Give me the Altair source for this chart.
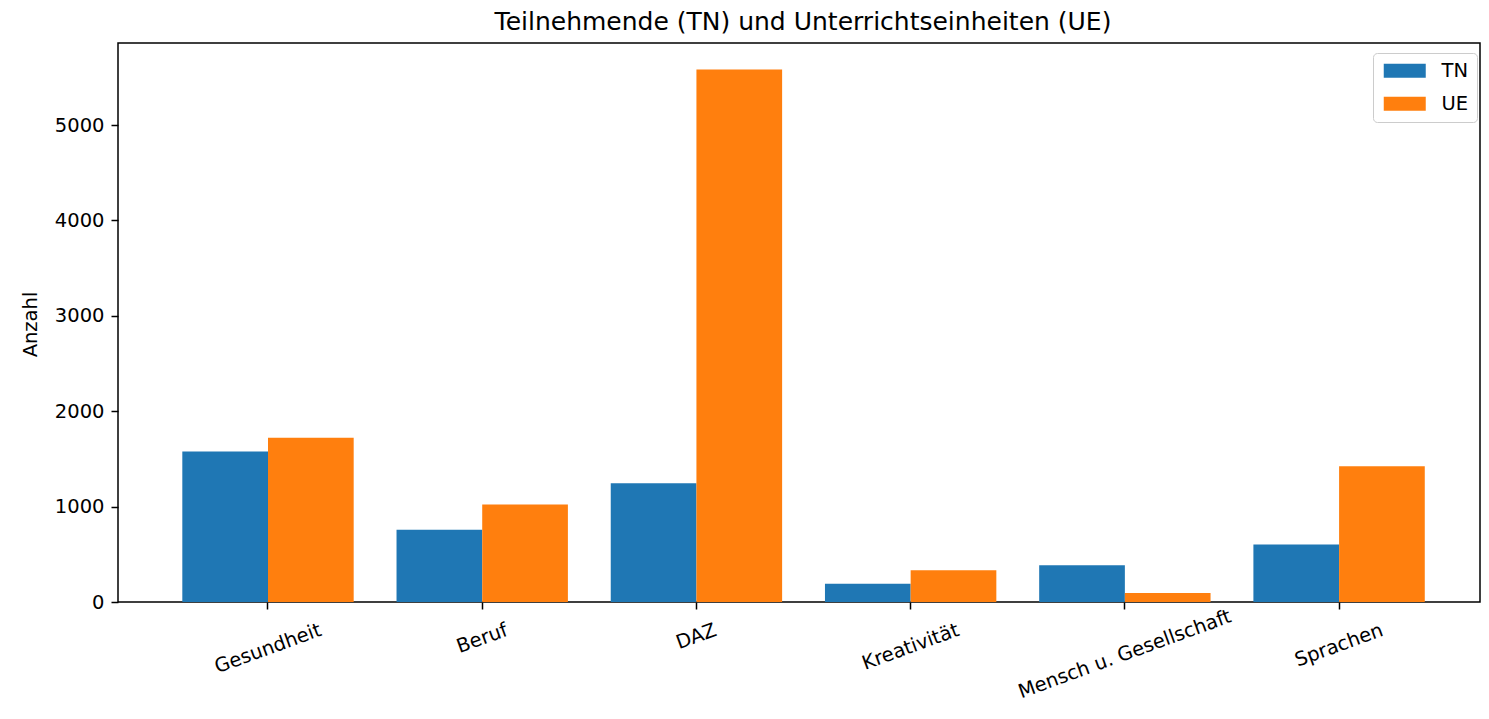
import altair as alt
import pandas as pd

categories = ["Gesundheit", "Beruf", "DAZ", "Kreativität", "Mensch u. Gesellschaft", "Sprachen"]
tn_values = [1578, 758, 1246, 192, 384, 604]
ue_values = [1721, 1023, 5581, 332, 94, 1424]
series = ["TN", "UE"]
colors = ["#1f77b4", "#ff7f0e"]
y_ticks = [0, 1000, 2000, 3000, 4000, 5000]

rows = []
for c, t, u in zip(categories, tn_values, ue_values):
    rows.append({"Bereich": c, "Serie": "TN", "Anzahl": t})
    rows.append({"Bereich": c, "Serie": "UE", "Anzahl": u})
df = pd.DataFrame(rows)

FONT = "DejaVu Sans"
FS = 19.5
LEFT = 110  # padding left (plot starts at 8 + LEFT)
BOTTOM = 104

# approximate rendered label widths (em) in DejaVu Sans, used to mimic
# matplotlib's rotated-label placement (bbox top aligned under the tick)
label_em = {"Gesundheit": 5.737, "Beruf": 2.698, "DAZ": 2.14, "Kreativität": 5.232,
            "Mensch u. Gesellschaft": 11.549, "Sprachen": 4.727}


def label_pad(c):
    w = label_em[c] * FS
    pad = 20 + w * 0.171
    half_h = (w * 0.342 + 21.3) / 2
    # keep the rotated label inside the drawing area
    max_center = BOTTOM - 3 - half_h - 7
    return round(min(pad, max_center), 1)


pad_conditions = [{"test": f"datum.value === '{c}'", "value": label_pad(c)} for c in categories]

chart = alt.Chart(df).mark_bar().encode(
    x=alt.X(
        "Bereich:N",
        sort=categories,
        scale=alt.Scale(paddingInner=0.2, paddingOuter=0.279, align=0.538),
        axis=alt.Axis(
            title=None,
            labelAngle=-20,
            labelAlign="center",
            labelBaseline="middle",
            labelFontSize=FS,
            labelColor="black",
            labelLimit=0,
            labelPadding={"condition": pad_conditions, "value": 30},
            tickColor="black",
            tickSize=7,
            tickWidth=1.5,
            domain=False,
            grid=False,
            bandPosition=0.5,
            labelOverlap=False,
            labelFlush=False,
        ),
    ),
    xOffset=alt.XOffset("Serie:N", sort=series, scale=alt.Scale(paddingInner=0, paddingOuter=0)),
    y=alt.Y(
        "Anzahl:Q",
        scale=alt.Scale(domain=[0, 5860], nice=False, zero=True),
        axis=alt.Axis(
            title="Anzahl",
            values=y_ticks,
            format="d",
            labelFontSize=FS,
            labelColor="black",
            labelPadding=7,
            tickColor="black",
            tickSize=7,
            tickWidth=1.5,
            domain=False,
            grid=False,
            titleFontSize=FS,
            titleFontWeight="normal",
            titleColor="black",
            titleX=30 - 8 - LEFT,
            titleY=281,
            titleAngle=270,
            titleAlign="center",
            titleBaseline="middle",
        ),
    ),
    color=alt.Color(
        "Serie:N",
        scale=alt.Scale(domain=series, range=colors),
        legend=alt.Legend(
            title=None,
            orient="none",
            legendX=1373 - 8 - LEFT,
            legendY=10,
            labelFontSize=FS,
            labelColor="black",
            symbolType="M-1,-1H5V1H-1Z",
            symbolSize=196,
            symbolStrokeWidth=0,
            symbolOpacity=1,
            labelOffset=41,
            padding=8,
            rowPadding=12,
            strokeColor="#cccccc",
            cornerRadius=4,
            fillColor="white",
        ),
    ),
).properties(
    width=1362,
    height=559,
    autosize=alt.AutoSizeParams(type="none"),
    padding={"left": LEFT, "top": 35, "right": 1, "bottom": BOTTOM},
    title=alt.TitleParams(
        "Teilnehmende (TN) und Unterrichtseinheiten (UE)",
        fontSize=25,
        fontWeight="normal",
        color="black",
        anchor="middle",
        offset=8,
        dx=4,
        font=FONT,
    ),
).configure(font=FONT).configure_view(stroke="black", strokeWidth=1.5).configure_axis(
    labelFont=FONT, titleFont=FONT
).configure_legend(labelFont=FONT)

chart.save("out.html", embed_options={"renderer": "svg", "actions": False})
